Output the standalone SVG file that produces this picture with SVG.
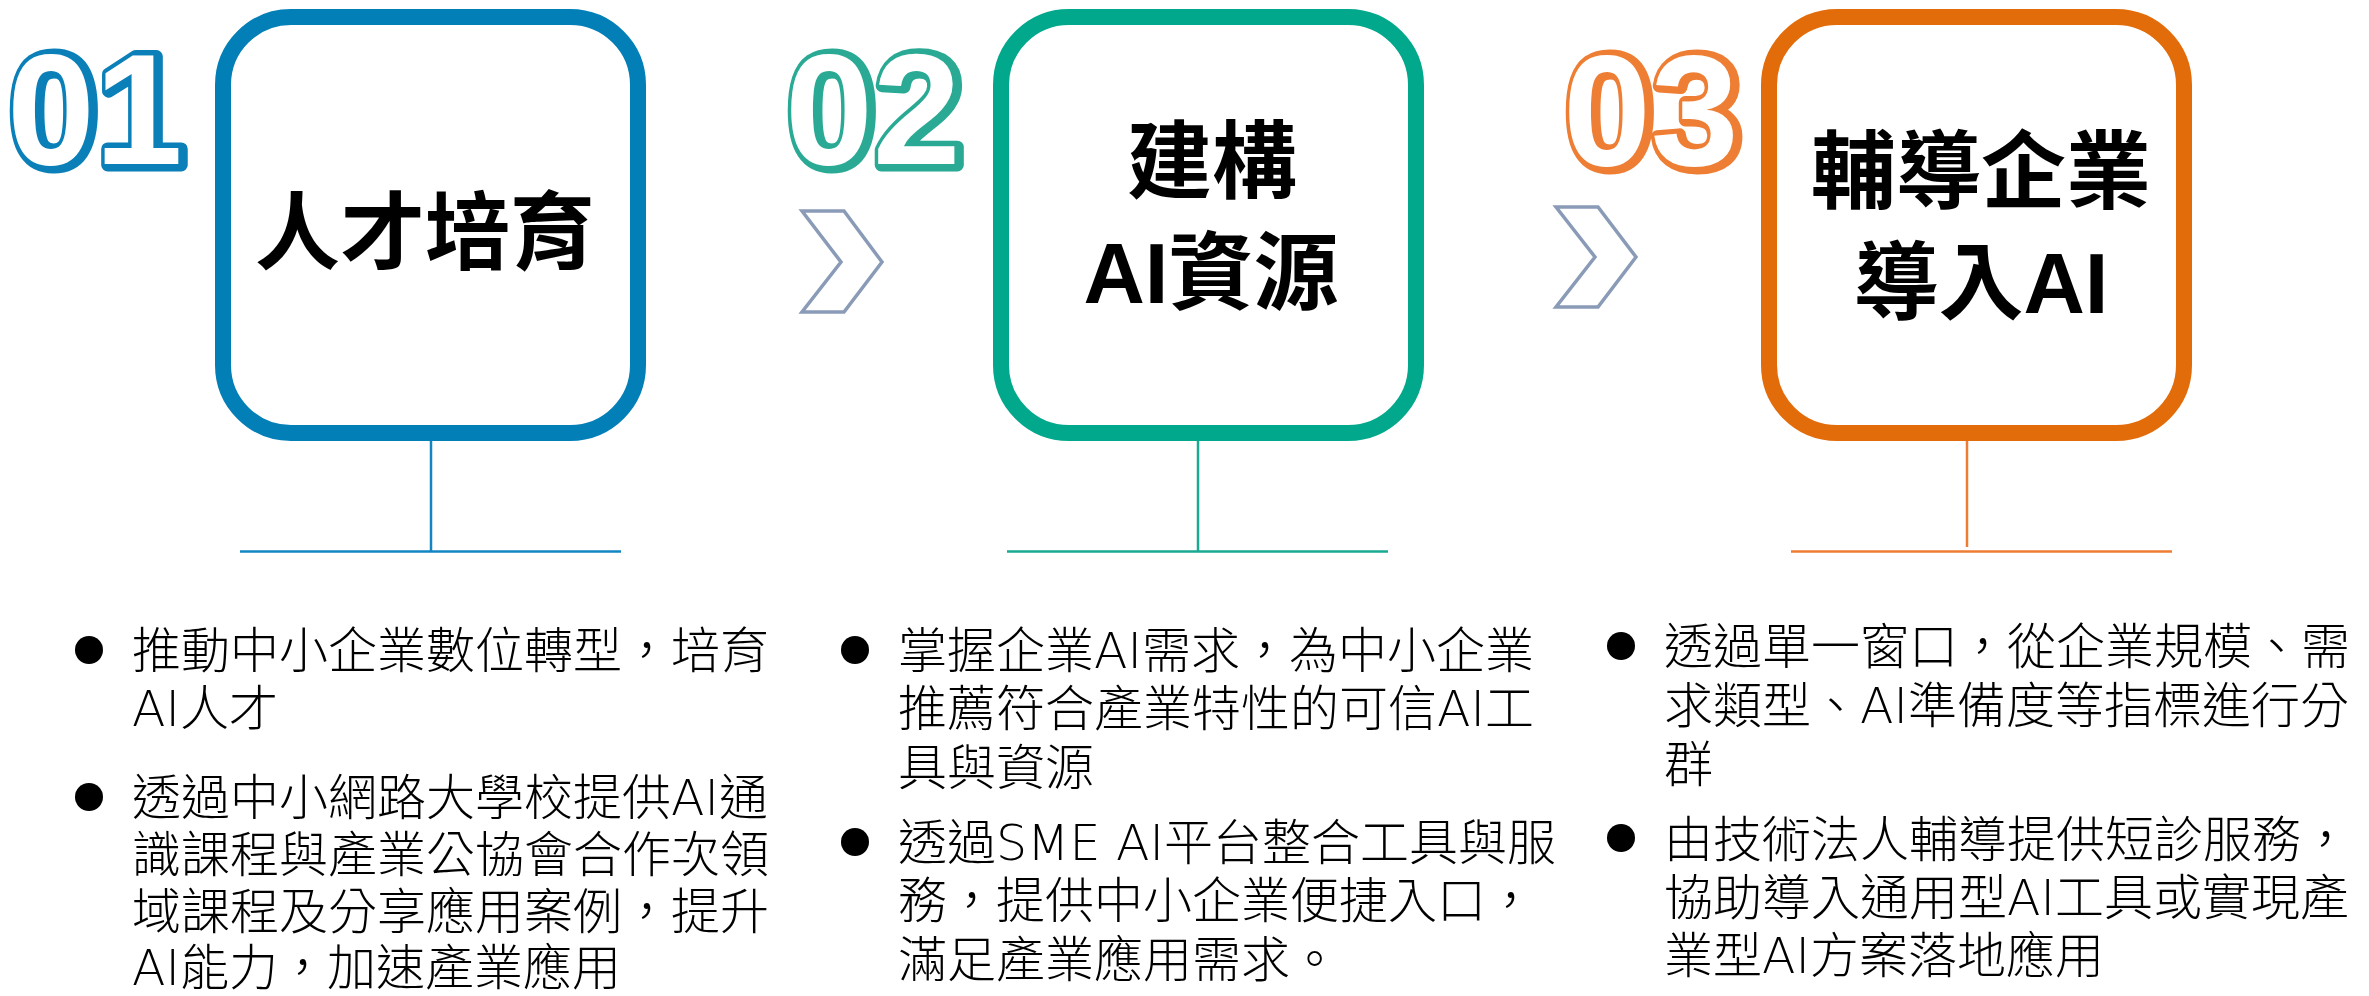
<svg xmlns="http://www.w3.org/2000/svg" width="2369" height="996" viewBox="0 0 2369 996">
<style>
.num{font-family:"Liberation Sans",Arial,sans-serif;font-weight:700;font-size:158px}
.numA{stroke-width:13;stroke-linejoin:round}
.numB{fill:#fff}
.box{fill:#fff;stroke-width:16}
.title{font-family:"Liberation Sans","Noto Sans CJK TC",sans-serif;font-weight:700;font-size:85px;fill:#000;text-anchor:middle}
.body{font-family:"DejaVu Sans","Noto Sans CJK TC",sans-serif;font-weight:300;font-size:49px;fill:#000}
.chev{fill:#fff;stroke:#8A9BB7;stroke-width:3.5;stroke-linejoin:miter}
.ln{stroke-width:2.5;fill:none}
</style>
<rect width="2369" height="996" fill="#fff"/>

<g id="number-01">
  <text class="num numA" x="10" y="165" fill="#0A7FB8" stroke="#0A7FB8">01</text>
  <text class="num numB" x="7" y="164">01</text>
</g>
<g id="number-02">
  <text class="num numA" x="788" y="165" fill="#2AAA95" stroke="#2AAA95">02</text>
  <text class="num numB" x="785" y="164">02</text>
</g>
<g id="number-03">
  <text class="num numA" x="1566" y="166" fill="#EE7E34" stroke="#EE7E34">03</text>
  <text class="num numB" x="1563" y="165">03</text>
</g>

<g id="chevron-1"><polygon class="chev" points="802,211 844,211 882,262 844,312 802,312 841,262"/></g>
<g id="chevron-2"><polygon class="chev" points="1556,207 1598,207 1636,257 1598,307 1556,307 1595,257"/></g>

<g id="node-1">
  <rect class="box" x="223" y="17" width="415" height="416" rx="68" ry="68" stroke="#027FB7"/>
  <text class="title" x="425" y="263">人才培育</text>
</g>
<g id="node-2">
  <rect class="box" x="1001" y="17" width="415" height="416" rx="68" ry="68" stroke="#02A88C"/>
  <text class="title" x="1212" y="192">建構</text>
  <text class="title" x="1211" y="303">AI資源</text>
</g>
<g id="node-3">
  <rect class="box" x="1769" y="17" width="415" height="416" rx="68" ry="68" stroke="#E36C0A"/>
  <text class="title" x="1981" y="202">輔導企業</text>
  <text class="title" x="1981" y="313">導入AI</text>
</g>

<g id="connectors">
  <line class="ln" x1="431" y1="441" x2="431" y2="551" stroke="#1286C2"/>
  <line class="ln" x1="240" y1="551.5" x2="621" y2="551.5" stroke="#1286C2"/>
  <line class="ln" x1="1198" y1="441" x2="1198" y2="551" stroke="#1AA993"/>
  <line class="ln" x1="1007" y1="551.5" x2="1388" y2="551.5" stroke="#1AA993"/>
  <line class="ln" x1="1967" y1="441" x2="1967" y2="547" stroke="#EE7D33"/>
  <line class="ln" x1="1791" y1="551.5" x2="2172" y2="551.5" stroke="#EE7D33"/>
</g>

<g id="details-1">
  <circle cx="89" cy="650" r="14" fill="#000"/>
  <text class="body" x="132" y="668">推動中小企業數位轉型，培育</text>
  <text class="body" x="132" y="726">AI人才</text>
  <circle cx="89" cy="797" r="14" fill="#000"/>
  <text class="body" x="132" y="815">透過中小網路大學校提供AI通</text>
  <text class="body" x="132" y="872">識課程與產業公協會合作次領</text>
  <text class="body" x="132" y="929">域課程及分享應用案例，提升</text>
  <text class="body" x="132" y="985">AI能力，加速產業應用</text>
</g>
<g id="details-2">
  <circle cx="855" cy="650" r="14" fill="#000"/>
  <text class="body" x="898" y="668">掌握企業AI需求，為中小企業</text>
  <text class="body" x="898" y="726">推薦符合產業特性的可信AI工</text>
  <text class="body" x="898" y="785">具與資源</text>
  <circle cx="855" cy="842" r="14" fill="#000"/>
  <text class="body" x="898" y="860">透過SME AI平台整合工具與服</text>
  <text class="body" x="898" y="918">務，提供中小企業便捷入口，</text>
  <text class="body" x="898" y="977">滿足產業應用需求。</text>
</g>
<g id="details-3">
  <circle cx="1621" cy="646" r="14" fill="#000"/>
  <text class="body" x="1664" y="664">透過單一窗口，從企業規模、需</text>
  <text class="body" x="1664" y="723">求類型、AI準備度等指標進行分</text>
  <text class="body" x="1664" y="782">群</text>
  <circle cx="1621" cy="838" r="14" fill="#000"/>
  <text class="body" x="1664" y="857">由技術法人輔導提供短診服務，</text>
  <text class="body" x="1664" y="915">協助導入通用型AI工具或實現產</text>
  <text class="body" x="1664" y="973">業型AI方案落地應用</text>
</g>
</svg>
